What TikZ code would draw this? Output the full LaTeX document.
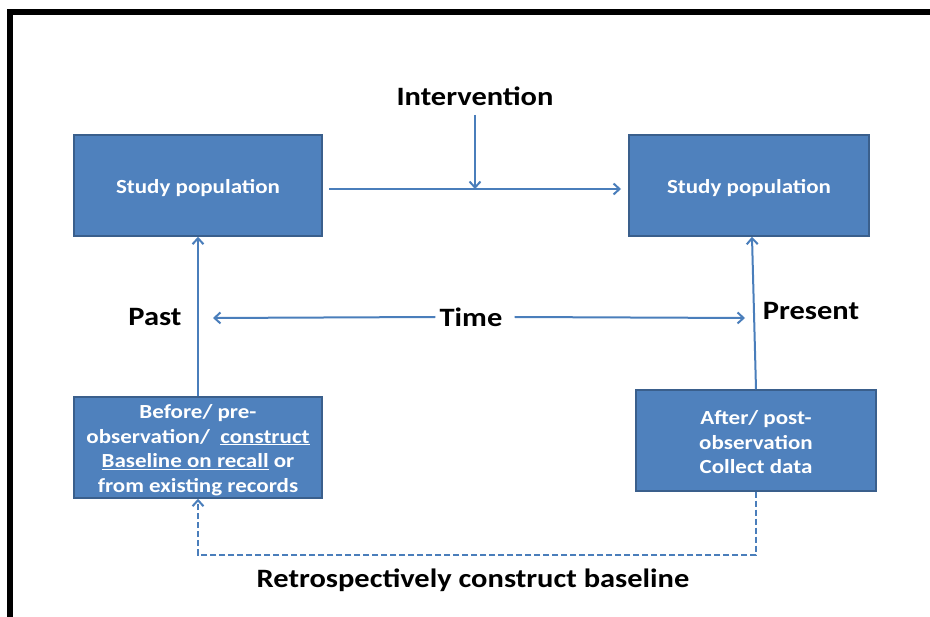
\documentclass[tikz,border=0pt]{standalone}
\usepackage{fontspec}
\setmainfont{Carlito}[FakeStretch=1.15]
\usetikzlibrary{arrows.meta}
\definecolor{boxfill}{HTML}{4F81BD}
\definecolor{boxline}{HTML}{3A5F8C}
\definecolor{arrowc}{HTML}{4A7EBB}
\newcommand{\boxtext}[2]{\raisebox{-#1}[\height][\depth]{\begin{tabular}{@{}c@{}}#2\end{tabular}}}
\begin{document}
\begin{tikzpicture}[x=1pt,y=-1pt,
  bluebox/.style={draw=boxline,line width=1.5pt,fill=boxfill,text=white,font=\bfseries\fontsize{20}{24.5}\selectfont,inner sep=0pt},
  conn/.style={draw=arrowc,line width=2pt,-{Straight Barb[length=6pt,width=11pt,line width=2pt]}},
  dconn/.style={draw=arrowc,line width=2pt,dash pattern=on 6pt off 3pt,-{Straight Barb[length=6pt,width=11pt,line width=2pt]}},
  lbl/.style={font=\bfseries\fontsize{26.5}{30}\selectfont,text=black,inner sep=0pt}]
\useasboundingbox (0,0) rectangle (930,617);
\fill[white] (0,0) rectangle (930,617);
% frame
\draw[black,line width=6pt] (10,617) -- (10,12) -- (930,12);
% boxes
\node[bluebox,minimum width=248pt,minimum height=101pt] (tl) at (198,185.5) {\boxtext{3.5pt}{Study population}};
\node[bluebox,minimum width=240pt,minimum height=101pt] (tr) at (749,185.5) {\boxtext{3.5pt}{Study population}};
\node[bluebox,minimum width=248pt,minimum height=101pt] (bl) at (198,447.5) {\boxtext{3pt}{Before/ pre-\\observation/\ \ \underline{construct}\\\underline{Baseline on recall} or\\from existing records}};
\node[bluebox,minimum width=240pt,minimum height=101pt] (br) at (756,440.5) {\boxtext{4pt}{After/ post-\\observation\\Collect data}};
% labels
\node[lbl] (interv) at (475,96) {Intervention};
\node[lbl] (past) at (155,317) {Past};
\node[lbl] (time) at (471,317) {Time};
\node[lbl] (present) at (811,311) {Present};
\node[lbl] (retro) at (473,580) {Retrospectively construct baseline};
% coordinates
\coordinate (hstart) at (329,189);
\coordinate (hend) at (621,189);
\coordinate (vtop) at (475,115);
\coordinate (vend) at (475,189);
\coordinate (tleft) at (213,318);
\coordinate (tright) at (745,318);
\coordinate (c1) at (756,555);
\coordinate (c2) at (198,555);
% connectors
\draw[conn] (bl.north) -- (tl.south);
\draw[conn] (br.north) -- ([xshift=3pt]tr.south);
\draw[conn] (hstart) -- (hend);
\draw[conn] (vtop) -- (vend);
\draw[conn] (time.west) ++(-4pt,0) -- (tleft);
\draw[conn] (time.east) ++(12pt,0) -- (tright);
\draw[dconn] (br.south) -- (c1) -- (c2) -- (bl.south);
\end{tikzpicture}
\end{document}
